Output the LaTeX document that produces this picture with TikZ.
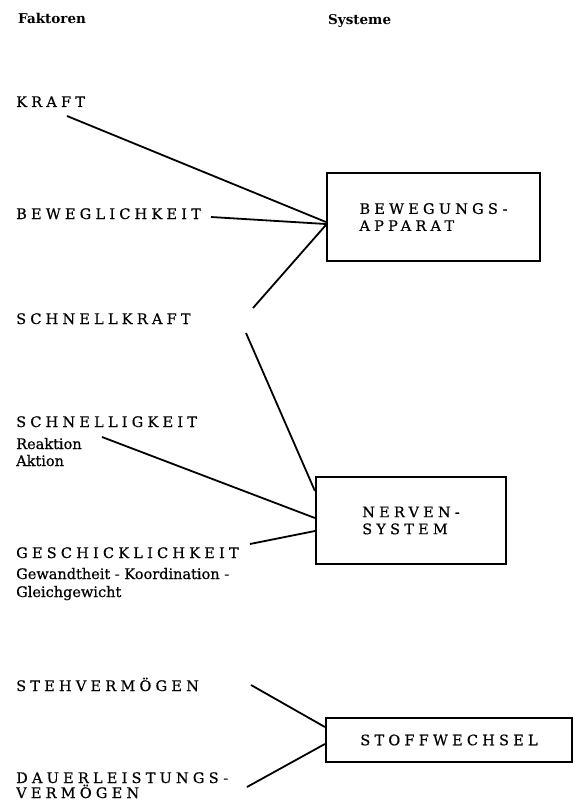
\documentclass[tikz,border=0pt]{standalone}
\usepackage{fontspec}
\setmainfont{DejaVu Serif}
\newfontfamily\capsfont[LetterSpace=29, FakeBold=0.6]{DejaVu Serif}
\newfontfamily\subfont[FakeBold=0.6]{DejaVu Serif}
\usetikzlibrary{positioning}

\tikzset{
  factor/.style={anchor=base west, inner sep=0pt, font=\capsfont\fontsize{14.5}{17}\selectfont},
  sub/.style={anchor=base west, inner sep=0pt, font=\subfont\fontsize{14.5}{17}\selectfont},
  head/.style={anchor=base west, inner sep=0pt, font=\bfseries\fontsize{13.5}{15}\selectfont},
  sys/.style={draw, line width=2.2pt, align=left, font=\capsfont\fontsize{14.5}{17}\selectfont},
  link/.style={line width=1.8pt},
}

\begin{document}
\begin{tikzpicture}[x=1pt, y=-1pt]
  \useasboundingbox (0,0) rectangle (573,802);

  \node (faktoren) [head] at (18,24) {Faktoren};
  \node (systeme) [head] at (328,25) {Systeme};

  \node (kraft) [factor] at (16,107) {KRAFT};
  \node (bewegl) [below=112pt of kraft.base west, factor] {BEWEGLICHKEIT};
  \node (skraft) [below=105pt of bewegl.base west, factor] {SCHNELLKRAFT};
  \node (schnell) [below=103pt of skraft.base west, factor] {SCHNELLIGKEIT};
  \node (reaktion) [below=22pt of schnell.base west, sub] {Reaktion};
  \node (aktion) [below=17pt of reaktion.base west, sub] {Aktion};
  \node (geschick) [below=131pt of schnell.base west, factor] {GESCHICKLICHKEIT};
  \node (gewandt) [below=21pt of geschick.base west, sub] {Gewandtheit - Koordination -};
  \node (gleich) [below=18pt of gewandt.base west, sub] {Gleichgewicht};
  \node (steh) [below=133pt of geschick.base west, factor] {STEHVERMÖGEN};
  \node (dauer) [below=92pt of steh.base west, factor] {DAUERLEISTUNGS-};
  \node (dauer2) [below=15pt of dauer.base west, factor] {VERMÖGEN};

  \node (bew) [sys, minimum width=213pt, minimum height=88pt] at (433.5,217) {BEWEGUNGS-\\APPARAT};
  \node (nerv) [sys, minimum width=190pt, minimum height=87pt] at (411,520.5) {NERVEN-\\SYSTEM};
  \node (stoff) [sys, minimum width=246pt, minimum height=44pt] at (449,740) {STOFFWECHSEL};

  % free ends near the labels
  \coordinate (kraft-a) at (67,116);
  \coordinate (bewegl-a) at (211,217);
  \coordinate (skraft-a) at (253,308);
  \coordinate (skraft-b) at (246,333);
  \coordinate (schnell-a) at (102,437);
  \coordinate (geschick-a) at (250,544);
  \coordinate (steh-a) at (251,685);
  \coordinate (dauer-a) at (247,787);

  \draw [link] (kraft-a) -- ([yshift=-5pt]bew.west);
  \draw [link] (bewegl-a) -- ([yshift=-7pt]bew.west);
  \draw [link] (skraft-a) -- ([yshift=-8pt]bew.west);
  \draw [link] (skraft-b) -- ([yshift=-15pt]nerv.north west);
  \draw [link] (schnell-a) -- ([yshift=2.5pt]nerv.west);
  \draw [link] (geschick-a) -- ([yshift=-10.5pt]nerv.west);
  \draw [link] (steh-a) -- ([yshift=13pt]stoff.west);
  \draw [link] (dauer-a) -- ([yshift=-4pt]stoff.west);
\end{tikzpicture}
\end{document}
